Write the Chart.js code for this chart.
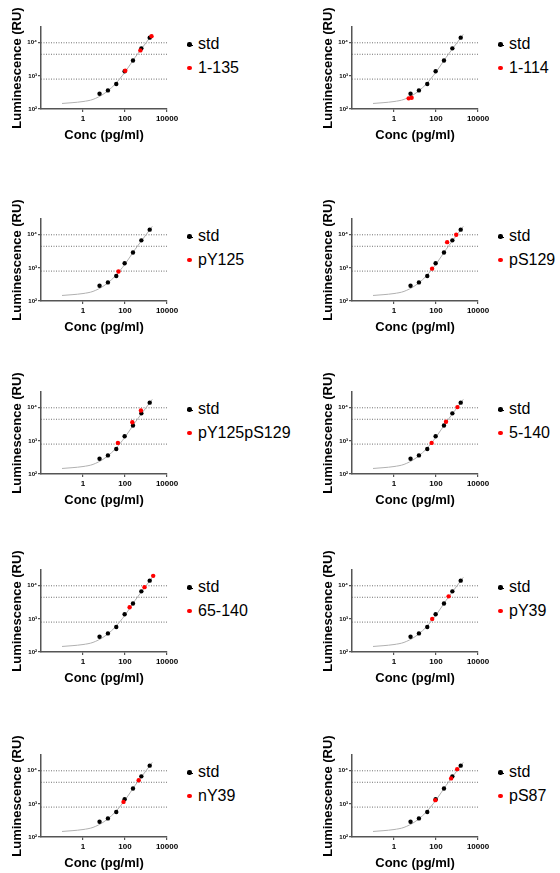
<!DOCTYPE html>
<html>
<head>
<meta charset="utf-8">
<script src="https://cdn.jsdelivr.net/npm/chart.js@4.4.1/dist/chart.umd.min.js"></script>
<style>
  html, body { margin: 0; padding: 0; background: #fff; }
  body { width: 560px; height: 873px; position: relative; overflow: hidden; font-family: "Liberation Sans", Arial, sans-serif; }
  canvas { position: absolute; }
  .key { position: absolute; font-size: 16px; line-height: 16px; white-space: nowrap; color: #000; }
  .dot { position: absolute; width: 4.4px; height: 4.4px; border-radius: 50%; }
  .stem { position: absolute; width: 6px; height: 1px; background: #000; }
</style>
</head>
<body>
<script>
  // sample names, one panel each
  const sampleNames = ["1-135", "1-114", "pY125", "pS129", "pY125pS129", "5-140", "65-140", "pY39", "nY39", "pS87"];

  // standard series (same on every panel)
  const stdConc = [6.144, 15.36, 38.4, 96, 240, 600, 1500];
  const stdLum = [290, 365, 570, 1380, 2920, 6800, 14300];

  // fitted standard curve
  const fitConc = [0.1, 0.3, 1, 3, 10, 30, 100, 300, 1000, 2000];
  const fitLum = [147, 155, 168, 195, 290, 520, 1300, 3600, 10000, 18000];

  // measured samples per panel
  const sampleConc = [
    [103, 540, 1830], [5.0, 6.9], [49], [65, 340, 920], [46, 223, 575],
    [62, 300, 1050], [166, 850, 2200], [66, 400], [85, 450], [94, 525, 1020]
  ];
  const sampleLum = [
    [1435, 5900, 15900], [210, 218], [780], [950, 6000, 10000], [870, 3650, 8300],
    [870, 3800, 10500], [2250, 9100, 20000], [1000, 4800], [1150, 5200], [1300, 5900, 11200]
  ];

  // dotted horizontal reference levels
  const refLum = [10000, 4500, 800];

  const xRange = [0.01, 10000];
  const yRange = [100, 30000];
  const xTicks = [1, 100, 10000];
  const yTicks = [100, 1000, 10000];
  const yTickLabels = ["10²", "10³", "10⁴"];

  // panel placement
  const colAxis = [41, 352];
  const rowBottom = [109, 301, 474, 652, 837];
  const plotW = 126, plotH = 82;
  const axisW = 42, xAxisH = 36, padTop = 30, padRight = 16;
  const family = "'Liberation Sans', Arial, sans-serif";

  function pts(xs, ys) {
    return xs.map((x, i) => ({ x: x, y: ys[i] }));
  }

  function addDiv(cls, left, top, text) {
    const d = document.createElement("div");
    d.className = cls;
    d.style.left = left + "px";
    d.style.top = top + "px";
    if (text) d.textContent = text;
    document.body.appendChild(d);
    return d;
  }

  function makePanel(i) {
    const col = i % 2, row = Math.floor(i / 2);
    const ax = colAxis[col], bottom = rowBottom[row];

    const cv = document.createElement("canvas");
    cv.width = axisW + plotW + padRight;
    cv.height = padTop + plotH + xAxisH;
    cv.style.left = (ax - axisW) + "px";
    cv.style.top = (bottom - plotH - padTop) + "px";
    document.body.appendChild(cv);

    const datasets = [
      {
        data: pts(sampleConc[i], sampleLum[i]),
        backgroundColor: "#ff0000",
        pointRadius: 2.2,
        pointBorderWidth: 0,
        showLine: false
      },
      {
        data: pts(stdConc, stdLum),
        backgroundColor: "#000",
        pointRadius: 2.2,
        pointBorderWidth: 0,
        showLine: false
      },
      {
        data: pts(fitConc, fitLum),
        borderColor: "#b0b0b0",
        borderWidth: 1,
        pointRadius: 0,
        showLine: true,
        cubicInterpolationMode: "monotone"
      }
    ];
    refLum.forEach(v => {
      datasets.push({
        data: [{ x: xRange[0], y: v }, { x: xRange[1], y: v }],
        borderColor: "#707070",
        borderWidth: 1,
        borderDash: [1, 1.5],
        pointRadius: 0,
        showLine: true
      });
    });

    new Chart(cv, {
      type: "scatter",
      data: { datasets: datasets },
      options: {
        responsive: false,
        animation: false,
        layout: { padding: { top: padTop, right: padRight, left: 0, bottom: 0 } },
        plugins: {
          legend: { display: false },
          tooltip: { enabled: false }
        },
        scales: {
          x: {
            type: "logarithmic",
            min: xRange[0],
            max: xRange[1],
            bounds: "data",
            afterBuildTicks: s => { s.ticks = xTicks.map(v => ({ value: v })); },
            afterFit: s => { s.height = xAxisH; },
            border: { color: "#555", width: 1.5 },
            grid: { drawOnChartArea: false, tickLength: 3, color: "#555", lineWidth: 1.2 },
            ticks: {
              color: "#000",
              padding: 1.5,
              autoSkip: false,
              maxRotation: 0,
              font: { family: family, size: 8, weight: "bold" },
              callback: v => String(v)
            },
            title: {
              display: true,
              text: "Conc (pg/ml)",
              color: "#000",
              font: { family: family, size: 13, weight: "bold" },
              padding: { top: 0, bottom: 1.5 }
            }
          },
          y: {
            type: "logarithmic",
            min: yRange[0],
            max: yRange[1],
            bounds: "data",
            afterBuildTicks: s => { s.ticks = yTicks.map(v => ({ value: v })); },
            afterFit: s => { s.width = axisW; },
            border: { color: "#555", width: 1.5 },
            grid: { drawOnChartArea: false, tickLength: 3, color: "#555", lineWidth: 1.2 },
            ticks: {
              color: "#000",
              padding: 1,
              autoSkip: false,
              font: { family: family, size: 6, weight: "bold" },
              callback: v => yTickLabels[yTicks.indexOf(v)]
            },
            title: {
              display: true,
              text: "Luminescence (RU)",
              color: "#000",
              font: { family: family, size: 13, weight: "bold" },
              padding: { top: 11, bottom: 0 }
            }
          }
        }
      }
    });

    // legend: std line+dot, sample dot
    const textX = ax + 157;
    const dotX = ax + 148.5 - 2.2;
    addDiv("stem", ax + 145.5, bottom - 64.5);
    addDiv("dot", dotX, bottom - 64.5 - 2.2).style.background = "#000";
    addDiv("key", textX, bottom - 59.5 - 13.5, "std");
    addDiv("dot", dotX, bottom - 41 - 2.2).style.background = "#ff0000";
    addDiv("key", textX, bottom - 35.5 - 13.5, sampleNames[i]);
  }

  for (let i = 0; i < sampleNames.length; i++) {
    makePanel(i);
  }
</script>
</body>
</html>
